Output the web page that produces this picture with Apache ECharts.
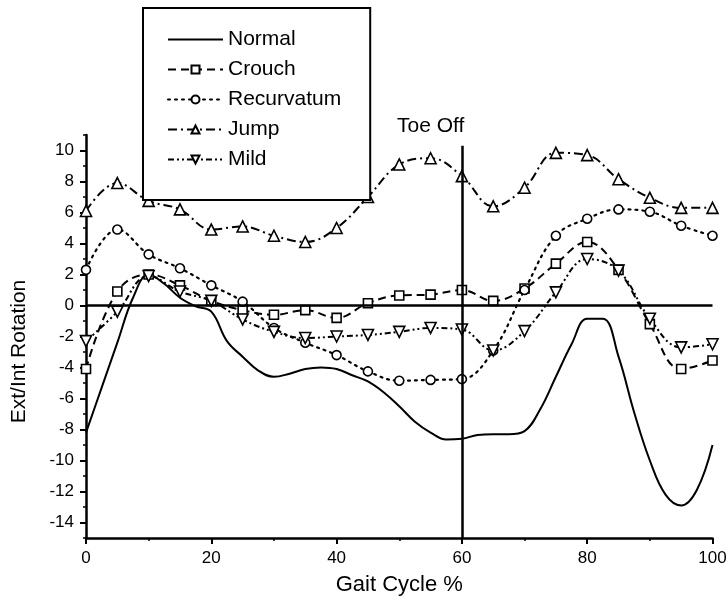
<!DOCTYPE html>
<html>
<head>
<meta charset="utf-8">
<title>Ext/Int Rotation</title>
<script src="https://cdn.jsdelivr.net/npm/echarts@6/dist/echarts.min.js"></script>
<style>
  html, body { margin: 0; padding: 0; background: #fff; }
  #main { width: 728px; height: 605px; }
</style>
</head>
<body>
<div id="main"></div>
<script>
// gait cycle samples (markers every 5 %)
var gait = [0, 5, 10, 15, 20, 25, 30, 35, 40, 45, 50, 55, 60, 65, 70, 75, 80, 85, 90, 95, 100];
var crouch = [-4.1, 0.9, 2.0, 1.3, 0.3, -0.3, -0.6, -0.3, -0.8, 0.15, 0.65, 0.7, 1.0, 0.3, 1.1, 2.7, 4.1, 2.3, -1.2, -4.1, -3.55];
var recurvatum = [2.3, 4.9, 3.3, 2.4, 1.3, 0.25, -1.45, -2.4, -3.2, -4.25, -4.85, -4.8, -4.75, -2.9, 1.0, 4.5, 5.6, 6.2, 6.05, 5.15, 4.5];
var jump = [6.1, 7.9, 6.75, 6.2, 4.9, 5.1, 4.5, 4.1, 5.0, 7.0, 9.1, 9.5, 8.35, 6.4, 7.6, 9.85, 9.7, 8.15, 6.95, 6.3, 6.3];
var mild = [-2.3, -0.4, 1.9, 0.9, 0.3, -0.9, -1.7, -2.1, -2.0, -1.9, -1.7, -1.45, -1.55, -2.9, -1.65, 0.85, 3.0, 2.25, -0.85, -2.7, -2.5];

var normalX = [0, 2.5, 5, 7.5, 10, 12.5, 15, 17.5, 20, 22.5, 25, 27.5, 30, 32.5, 35, 37.5, 40, 42.5, 45, 47.5, 50,
  52.5, 55, 57.5, 60, 62.5, 65, 67.5, 70, 72.5, 75, 77.5, 80, 82.5, 85, 87.5, 90, 92.5, 95, 97.5, 100];
var normal = [-8.2, -5.3, -2.4, 0.5, 2.0, 1.4, 0.5, -0.05, -0.4, -2.3, -3.3, -4.2, -4.6, -4.4, -4.1, -4.0, -4.1, -4.5, -4.9, -5.6, -6.5,
  -7.5, -8.2, -8.65, -8.6, -8.35, -8.3, -8.3, -8.1, -6.7, -4.6, -2.5, -0.85, -0.85, -3.3, -6.9, -10.0, -12.2, -12.9, -11.9, -9.0];

var yTicks = [-14, -12, -10, -8, -6, -4, -2, 0, 2, 4, 6, 8, 10];
var toeOff = 60;

function pairs(xs, ys) {
  return xs.map(function (x, i) { return [x, ys[i]] })
}

var font = "'Liberation Sans', Arial, sans-serif";
var myChart = echarts.init(document.getElementById('main'));

var option = {
  backgroundColor: '#fff',
  animation: false,
  textStyle: { fontFamily: font, color: '#000' },
  grid: { left: 86, right: 15.5, top: 135, bottom: 67, outerBoundsMode: 'none' },
  legend: {
    orient: 'vertical',
    left: 143,
    top: 8,
    padding: [21, 29, 30, 24],
    itemWidth: 55,
    itemHeight: 10,
    itemGap: 9,
    backgroundColor: '#fff',
    borderColor: '#000',
    borderWidth: 2,
    textStyle: { fontFamily: font, fontSize: 21, color: '#000', lineHeight: 21 },
    data: [
      { name: 'Normal', itemStyle: { color: 'rgba(0,0,0,0)', borderWidth: 0 } },
      'Crouch', 'Recurvatum', 'Jump', 'Mild'
    ]
  },
  xAxis: {
    type: 'value',
    min: 0,
    max: 100,
    interval: 20,
    name: 'Gait Cycle %',
    nameLocation: 'middle',
    nameGap: 36,
    nameTextStyle: { fontFamily: font, fontSize: 22, color: '#000' },
    axisLine: { onZero: false, lineStyle: { color: '#000', width: 2.5 } },
    axisTick: { length: 6, lineStyle: { color: '#000', width: 2 } },
    minorTick: { show: true, splitNumber: 2, length: 3, lineStyle: { color: '#000', width: 1.5 } },
    axisLabel: { fontFamily: font, fontSize: 17, color: '#000', margin: 12 },
    splitLine: { show: false }
  },
  yAxis: [
    {
      // minor ticks every unit
      type: 'value',
      position: 'left',
      min: -15,
      max: 11,
      interval: 1,
      axisLine: { onZero: false, lineStyle: { color: '#000', width: 2.5 } },
      axisTick: { length: 3, lineStyle: { color: '#000', width: 1.5 } },
      axisLabel: { show: false },
      splitLine: { show: false }
    },
    {
      type: 'value',
      position: 'left',
      offset: 0,
      min: -15,
      max: 11,
      name: 'Ext/Int Rotation',
      nameLocation: 'middle',
      nameGap: 56,
      nameTextStyle: { fontFamily: font, fontSize: 21, color: '#000', padding: [0, 30, 0, 0] },
      axisLine: { show: false },
      axisTick: { customValues: yTicks, length: 6, lineStyle: { color: '#000', width: 2 } },
      axisLabel: { customValues: yTicks, fontFamily: font, fontSize: 17, color: '#000', margin: 12 },
      splitLine: { show: false }
    }
  ],
  graphic: [
    {
      type: 'text',
      left: 397,
      top: 116,
      style: { text: 'Toe Off', font: '21px ' + font, fill: '#000' }
    }
  ],
  series: [
    {
      name: 'Normal',
      type: 'line',
      symbol: 'none',
      smooth: 0.4,
      data: pairs(normalX, normal),
      lineStyle: { color: '#000', width: 2 },
      itemStyle: { color: '#000' },
      markLine: {
        silent: true,
        symbol: 'none',
        label: { show: false },
        lineStyle: { color: '#000', type: 'solid', width: 2.5 },
        data: [
          { yAxis: 0 },
          [{ coord: [toeOff, -15] }, { coord: [toeOff, 10.3] }]
        ]
      }
    },
    {
      name: 'Crouch',
      type: 'line',
      symbol: 'rect',
      symbolSize: 9,
      smooth: 0.4,
      data: pairs(gait, crouch),
      lineStyle: { color: '#000', width: 2, type: [8, 5] },
      itemStyle: { color: '#fff', borderColor: '#000', borderWidth: 1.6 }
    },
    {
      name: 'Recurvatum',
      type: 'line',
      symbol: 'circle',
      symbolSize: 9,
      smooth: 0.4,
      data: pairs(gait, recurvatum),
      lineStyle: { color: '#000', width: 2.2, type: [2, 5], cap: 'round' },
      itemStyle: { color: '#fff', borderColor: '#000', borderWidth: 1.6 }
    },
    {
      name: 'Jump',
      type: 'line',
      symbol: 'triangle',
      symbolSize: 11,
      smooth: 0.4,
      data: pairs(gait, jump),
      lineStyle: { color: '#000', width: 2, type: [9, 4, 2, 4] },
      itemStyle: { color: '#fff', borderColor: '#000', borderWidth: 1.6 }
    },
    {
      name: 'Mild',
      type: 'line',
      symbol: 'triangle',
      symbolRotate: 180,
      symbolSize: 11,
      smooth: 0.4,
      data: pairs(gait, mild),
      lineStyle: { color: '#000', width: 2, type: [6, 3, 2, 3, 2, 3] },
      itemStyle: { color: '#fff', borderColor: '#000', borderWidth: 1.6 }
    }
  ]
};

myChart.setOption(option);
</script>
</body>
</html>
